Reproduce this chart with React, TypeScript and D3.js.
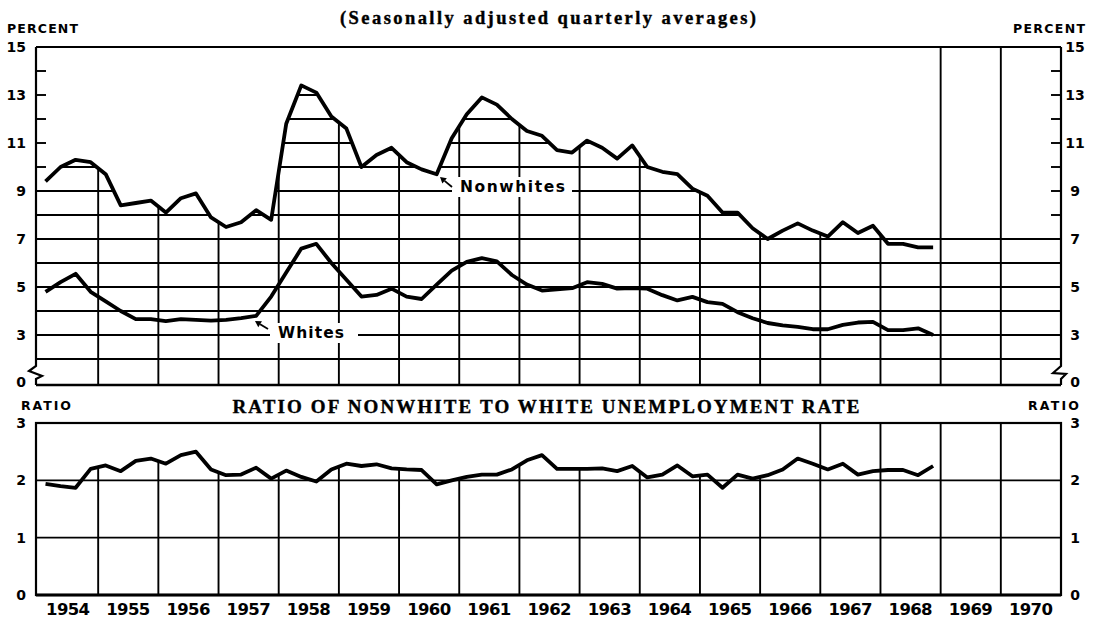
import React from 'react';
import * as d3 from 'd3';

// quarterly averages, 1954 Q1 .. 1968 Q4
const startYear = 1954;
const nonwhite = [
  9.4, 10.0, 10.3, 10.2, 9.7, 8.4, 8.5, 8.6, 8.1, 8.7, 8.9, 7.9,
  7.5, 7.7, 8.2, 7.8, 11.8, 13.4, 13.1, 12.1, 11.6, 10.0, 10.5, 10.8,
  10.2, 9.9, 9.7, 11.2, 12.2, 12.9, 12.6, 12.0, 11.5, 11.3, 10.7, 10.6,
  11.1, 10.8, 10.35, 10.9, 10.0, 9.8, 9.7, 9.1, 8.8, 8.1, 8.1, 7.45,
  7.0, 7.35, 7.65, 7.35, 7.1, 7.7, 7.25, 7.55, 6.8, 6.8, 6.65, 6.65
];
const whites = [
  4.8, 5.2, 5.55, 4.8, 4.4, 4.0, 3.66, 3.66, 3.58, 3.66, 3.63, 3.6,
  3.63, 3.7, 3.8, 4.6, 5.6, 6.6, 6.8, 6.0, 5.3, 4.6, 4.67, 4.93,
  4.6, 4.5, 5.1, 5.68, 6.05, 6.2, 6.07, 5.5, 5.1, 4.85, 4.9, 4.95,
  5.2, 5.13, 4.93, 4.95, 4.93, 4.66, 4.44, 4.59, 4.37, 4.3, 3.95, 3.7,
  3.5, 3.4, 3.34, 3.24, 3.24, 3.42, 3.52, 3.55, 3.2, 3.2, 3.28, 3.0
];
const ratio = [
  1.94, 1.9, 1.87, 2.2, 2.26, 2.16, 2.34, 2.38, 2.29, 2.44, 2.5, 2.19,
  2.09, 2.1, 2.22, 2.03, 2.17, 2.06, 1.98, 2.19, 2.29, 2.25, 2.28, 2.21,
  2.19, 2.18, 1.93, 2.0, 2.06, 2.1, 2.1, 2.19, 2.35, 2.44, 2.2, 2.2,
  2.2, 2.21, 2.16, 2.25, 2.05, 2.1, 2.26, 2.07, 2.1, 1.87, 2.1, 2.03,
  2.09, 2.19, 2.38, 2.29, 2.19, 2.29, 2.1, 2.16, 2.18, 2.18, 2.09, 2.25
];
const years = ['1954', '1955', '1956', '1957', '1958', '1959', '1960', '1961', '1962',
  '1963', '1964', '1965', '1966', '1967', '1968', '1969', '1970'];
const topTicks = [15, 13, 11, 9, 7, 5, 3];
const botTicks = [3, 2, 1, 0];

const W = 1095;
const H = 619;
const LEFT = 36;
const RIGHT = 1061;
const TOP_BOTTOM = 385;

const sans = "'DejaVu Sans', sans-serif";
const serif = "'Liberation Serif', 'DejaVu Serif', serif";

const App = () => {
  const x = d3.scaleLinear().domain([1954, 1971]).range([38, 1061]);
  const yTop = d3.scaleLinear().domain([2, 15]).range([359, 47]);
  const yBot = d3.scaleLinear().domain([0, 3]).range([595, 423]);

  const t = (i: number) => startYear + (i + 0.5) / 4;
  const nwPts = nonwhite.map((v, i) => ({ t: t(i), v }));
  const whPts = whites.map((v, i) => ({ t: t(i), v }));
  const raPts = ratio.map((v, i) => ({ t: t(i), v }));

  const lineTop = d3.line<{ t: number; v: number }>().x(d => x(d.t)).y(d => yTop(d.v));
  const lineBot = d3.line<{ t: number; v: number }>().x(d => x(d.t)).y(d => yBot(d.v));

  // clip: grid only shows underneath the curves
  const nwExt = [{ t: x.invert(LEFT - 1), v: nonwhite[0] }, ...nwPts];
  const areaTop = d3.area<{ t: number; v: number }>()
    .x(d => x(d.t)).y0(TOP_BOTTOM).y1(d => yTop(d.v));
  const raExt = [{ t: x.invert(LEFT - 1), v: ratio[0] }, ...raPts];
  const areaBot = d3.area<{ t: number; v: number }>()
    .x(d => x(d.t)).y0(595).y1(d => yBot(d.v));

  const gridW = 1.9;
  const unitsTop = d3.range(2, 16);
  const yearEdges = d3.range(1955, 1971);

  const arrow = (x1: number, y1: number, x2: number, y2: number) => {
    const a = Math.atan2(y2 - y1, x2 - x1);
    const L = 6, w = 3.5;
    const bx = x2 - L * Math.cos(a), by = y2 - L * Math.sin(a);
    const p1 = [bx + w * Math.sin(a), by - w * Math.cos(a)];
    const p2 = [bx - w * Math.sin(a), by + w * Math.cos(a)];
    return (
      <g>
        <line x1={x1} y1={y1} x2={bx} y2={by} stroke="#000" strokeWidth={1.8} />
        <polygon points={`${x2},${y2} ${p1[0]},${p1[1]} ${p2[0]},${p2[1]}`} fill="#000" />
      </g>
    );
  };

  return (
    <svg width={W} height={H} style={{ position: 'absolute', left: 0, top: 0, background: '#fff' }}>
      <defs>
        <clipPath id="clipTop">
          <path d={areaTop(nwExt) || ''} />
          <rect x={x(1968)} y={yTop(7.05)} width={RIGHT - x(1968)} height={TOP_BOTTOM - yTop(7.05)} />
        </clipPath>
        <clipPath id="clipBot">
          <path d={areaBot(raExt) || ''} />
        </clipPath>
      </defs>

      {/* headings */}
      <text x={548} y={24} textAnchor="middle" fontFamily={serif} fontWeight={900} fontSize={18.5}
        stroke="#000" strokeWidth={0.4}
        textLength={416} lengthAdjust="spacing">(Seasonally adjusted quarterly averages)</text>
      <text x={7} y={33} fontFamily={sans} fontWeight="bold" fontSize={12.5} textLength={71} lengthAdjust="spacing">PERCENT</text>
      <text x={1013} y={33} fontFamily={sans} fontWeight="bold" fontSize={12.5} textLength={72} lengthAdjust="spacing">PERCENT</text>

      {/* top panel grid */}
      <g clipPath="url(#clipTop)" stroke="#000" strokeWidth={gridW}>
        {unitsTop.map(u => (
          <line key={'h' + u} x1={LEFT} x2={RIGHT} y1={yTop(u)} y2={yTop(u)} />
        ))}
        {yearEdges.filter(yr => yr < 1969).map(yr => (
          <line key={'v' + yr} x1={x(yr)} x2={x(yr)} y1={47} y2={TOP_BOTTOM} />
        ))}
      </g>
      <g stroke="#000" strokeWidth={gridW}>
        {[1969, 1970].map(yr => (
          <line key={'vf' + yr} x1={x(yr)} x2={x(yr)} y1={47} y2={TOP_BOTTOM} />
        ))}
        {unitsTop.map(u => (
          <g key={'t' + u}>
            <line x1={LEFT} x2={LEFT + 10} y1={yTop(u)} y2={yTop(u)} />
            <line x1={RIGHT - 10} x2={RIGHT} y1={yTop(u)} y2={yTop(u)} />
          </g>
        ))}
      </g>
      {/* top frame with scale breaks */}
      <g stroke="#000" strokeWidth={2.2} fill="none">
        <line x1={LEFT} x2={RIGHT} y1={47} y2={47} />
        <line x1={LEFT} x2={RIGHT} y1={TOP_BOTTOM} y2={TOP_BOTTOM} strokeWidth={2.6} />
        <polyline points={`${LEFT},47 ${LEFT},366 ${LEFT - 7},371 ${LEFT + 6},376 ${LEFT},379 ${LEFT},${TOP_BOTTOM}`} />
        <polyline points={`${RIGHT},47 ${RIGHT},366 ${RIGHT - 8},373 ${RIGHT + 5},374 ${RIGHT},379 ${RIGHT},${TOP_BOTTOM}`} />
      </g>
      <g fontFamily={sans} fontWeight="bold" fontSize={14}>
        {topTicks.map(v => (
          <g key={'l' + v}>
            <text x={26} y={yTop(v) + 5} textAnchor="end">{v}</text>
            <text x={1075} y={yTop(v) + 5} textAnchor="middle">{v}</text>
          </g>
        ))}
        <text x={26} y={TOP_BOTTOM + 2} textAnchor="end">0</text>
        <text x={1075} y={TOP_BOTTOM + 2} textAnchor="middle">0</text>
      </g>

      {/* series labels */}
      <rect x={452} y={177} width={120} height={20} fill="#fff" />
      <text x={460} y={192} fontFamily={sans} fontWeight="bold" fontSize={15.5} textLength={105} lengthAdjust="spacing">Nonwhites</text>
      {arrow(452, 187, 440, 177)}
      <rect x={270} y={323} width={88} height={20} fill="#fff" />
      <text x={278} y={338} fontFamily={sans} fontWeight="bold" fontSize={15.5} textLength={66} lengthAdjust="spacing">Whites</text>
      {arrow(268, 329, 255, 321)}

      {/* top series */}
      <path d={lineTop(nwPts) || ''} fill="none" stroke="#000" strokeWidth={3.8} strokeLinejoin="round" />
      <path d={lineTop(whPts) || ''} fill="none" stroke="#000" strokeWidth={3.8} strokeLinejoin="round" />

      {/* bottom panel */}
      <text x={21} y={410} fontFamily={sans} fontWeight="bold" fontSize={12.5} textLength={50} lengthAdjust="spacing">RATIO</text>
      <text x={1028} y={410} fontFamily={sans} fontWeight="bold" fontSize={12.5} textLength={51} lengthAdjust="spacing">RATIO</text>
      <text x={546} y={413} textAnchor="middle" fontFamily={serif} fontWeight={900} fontSize={19}
        stroke="#000" strokeWidth={0.4}
        textLength={627} lengthAdjust="spacing">RATIO OF NONWHITE TO WHITE UNEMPLOYMENT RATE</text>

      <g stroke="#000" strokeWidth={gridW}>
        {[1, 2].map(u => (
          <line key={'bh' + u} x1={LEFT} x2={RIGHT} y1={yBot(u)} y2={yBot(u)} />
        ))}
        {yearEdges.filter(yr => yr >= 1967).map(yr => (
          <line key={'bvf' + yr} x1={x(yr)} x2={x(yr)} y1={423} y2={595} />
        ))}
      </g>
      <g clipPath="url(#clipBot)" stroke="#000" strokeWidth={gridW}>
        {yearEdges.filter(yr => yr < 1967).map(yr => (
          <line key={'bv' + yr} x1={x(yr)} x2={x(yr)} y1={423} y2={595} />
        ))}
      </g>
      <g stroke="#000" strokeWidth={2.2} fill="none">
        <rect x={LEFT} y={423} width={RIGHT - LEFT} height={595 - 423} />
        <line x1={LEFT} x2={RIGHT} y1={595} y2={595} strokeWidth={2.8} />
      </g>
      <g fontFamily={sans} fontWeight="bold" fontSize={14}>
        {botTicks.map(v => (
          <g key={'bl' + v}>
            <text x={26} y={yBot(v) + 5} textAnchor="end">{v}</text>
            <text x={1075} y={yBot(v) + 5} textAnchor="middle">{v}</text>
          </g>
        ))}
      </g>
      <path d={lineBot(raPts) || ''} fill="none" stroke="#000" strokeWidth={3.8} strokeLinejoin="round" />

      <g fontFamily={sans} fontWeight="bold" fontSize={16.5}>
        {years.map(yr => (
          <text key={yr} x={x(+yr + 0.5)} y={615} textAnchor="middle" textLength={44} lengthAdjust="spacing">{yr}</text>
        ))}
      </g>
    </svg>
  );
};

export default App;
